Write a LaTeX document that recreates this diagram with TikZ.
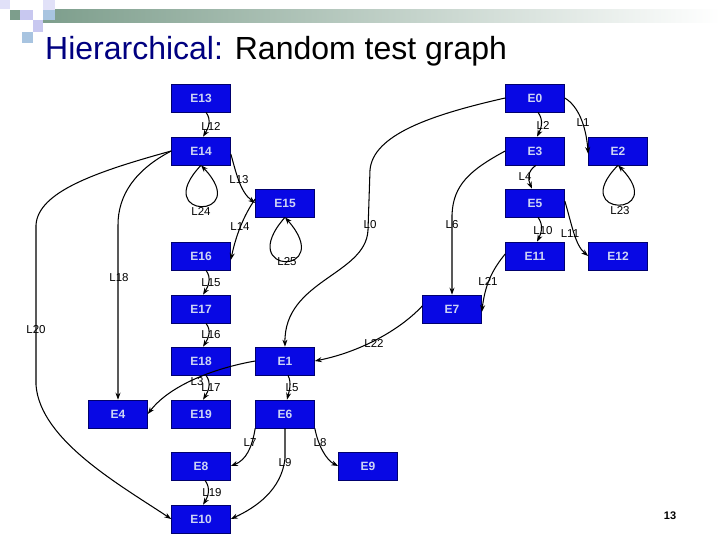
\documentclass[tikz,border=0pt]{standalone}
\usepackage{fontspec}
\setmainfont{Liberation Sans}
\usetikzlibrary{arrows.meta}
\definecolor{boxblue}{RGB}{8,8,228}
\definecolor{boxedge}{RGB}{0,0,110}
\definecolor{boxtext}{RGB}{205,212,245}
\definecolor{navy}{RGB}{0,0,128}
\definecolor{barleft}{RGB}{125,158,140}
\definecolor{sqlav}{RGB}{200,200,240}
\definecolor{sqpale}{RGB}{225,225,248}
\definecolor{sqblue}{RGB}{168,196,224}
\begin{document}
\begin{tikzpicture}[x=1pt,y=-1pt,
  ebox/.style={draw=boxedge, fill=boxblue, line width=0.6pt, minimum width=59pt, minimum height=28pt, inner sep=0pt, text=boxtext, font=\bfseries\fontsize{12}{12}\selectfont},
  elab/.style={font=\fontsize{11.5}{11.5}\selectfont, inner sep=0pt},
  edge/.style={line width=1.05pt, -{Stealth[length=7pt,width=5pt]}},
]
\useasboundingbox (0,0) rectangle (720,540);
\fill[white] (0,0) rectangle (720,540);
% header decoration
\shade[left color=barleft, right color=white] (43,10) rectangle (720,23);
\fill[sqpale] (0,0) rectangle (10,9);
\fill[barleft] (10,10) rectangle (20,20);
\fill[sqlav] (20,10) rectangle (33,20);
\fill[sqpale] (43,0) rectangle (55,10);
\fill[sqblue] (43,10) rectangle (55,20);
\fill[sqlav] (33,20) rectangle (43,32);
\fill[sqblue] (22,32) rectangle (33,43);
\node[anchor=base west, inner sep=0pt, font=\fontsize{32}{32}\selectfont] (title) at (45,60) {\textcolor{navy}{Hierarchical:} Random test graph};
\node[anchor=center, inner sep=0pt, font=\bfseries\fontsize{11}{11}\selectfont] (page) at (670,516) {13};

% boxes
\node[ebox] (e13) at (201,98) {E13};
\node[ebox] (e14) at (201,151) {E14};
\node[ebox] (e15) at (285,203) {E15};
\node[ebox] (e16) at (201,256) {E16};
\node[ebox] (e17) at (201,309) {E17};
\node[ebox] (e18) at (201,361) {E18};
\node[ebox] (e19) at (201,414) {E19};
\node[ebox] (e4) at (118,414) {E4};
\node[ebox] (e1) at (285,361) {E1};
\node[ebox] (e6) at (285,414) {E6};
\node[ebox] (e8) at (201,466) {E8};
\node[ebox] (e9) at (368,466) {E9};
\node[ebox] (e10) at (201,519) {E10};
\node[ebox] (e0) at (535,98) {E0};
\node[ebox] (e3) at (535,151) {E3};
\node[ebox] (e2) at (618,151) {E2};
\node[ebox] (e5) at (535,203) {E5};
\node[ebox] (e11) at (535,256) {E11};
\node[ebox] (e12) at (618,256) {E12};
\node[ebox] (e7) at (452,309) {E7};

% short vertical links
\draw[edge] ([xshift=5pt]e13.south) .. controls +(6,8) and +(5,-8) .. ([xshift=2pt]e14.north);
\draw[edge] ([xshift=5pt]e16.south) .. controls +(6,8) and +(5,-8) .. ([xshift=2pt]e17.north);
\draw[edge] ([xshift=5pt]e17.south) .. controls +(6,8) and +(5,-8) .. ([xshift=2pt]e18.north);
\draw[edge] ([xshift=5pt]e18.south) .. controls +(6,8) and +(5,-8) .. ([xshift=2pt]e19.north);
\draw[edge] ([xshift=4pt]e8.south) .. controls +(6,8) and +(5,-8) .. ([xshift=2pt]e10.north);
\draw[edge] ([xshift=3pt]e0.south) .. controls +(6,8) and +(4,-8) .. ([xshift=2pt]e3.north);
\draw[edge] ([xshift=3pt]e5.south) .. controls +(6,8) and +(4,-8) .. ([xshift=2pt]e11.north);
\draw[edge] ([xshift=1pt]e3.south) .. controls +(-9,6) and +(-4,-9) .. ([xshift=-3pt]e5.north);
\draw[edge] ([xshift=3pt]e1.south) .. controls +(4,8) and +(2,-8) .. ([xshift=2pt]e6.north);

% self loops
\draw[edge] (e14.south) .. controls (149,220) and (253,220) .. (e14.south);
\draw[edge] (e15.south) .. controls (233,276) and (337,276) .. (e15.south);
\draw[edge] (e2.south) .. controls (566,218) and (670,218) .. (e2.south);

% other links
\draw[edge] ([yshift=-3pt]e14.east) .. controls (236,172) and (240,192) .. (e15.west);
\draw[edge] ([yshift=4pt]e15.west) .. controls (244,215) and (236,235) .. ([yshift=-4pt]e16.east);
\draw[edge] (e14.west) .. controls (135,170) and (118,195) .. (118,225) -- (e4.north);
\draw[edge] (e14.west) .. controls (95,172) and (38,192) .. (36,225) -- (36,385) .. controls (40,440) and (120,485) .. (e10.west);
\draw[edge] (e0.west) .. controls (430,115) and (373,135) .. (370,170) -- (368,230) .. controls (366,275) and (284,280) .. (e1.north);
\draw[edge] (e3.west) .. controls (470,170) and (453,185) .. (452,215) -- (e7.north);
\draw[edge] (e0.east) .. controls (578,106) and (586,125) .. ([yshift=-3pt]e2.west);
\draw[edge] ([yshift=2pt]e5.east) .. controls (572,225) and (575,245) .. (e12.west);
\draw[edge] ([yshift=2pt]e11.west) .. controls (492,270) and (485,285) .. ([yshift=-3pt]e7.east);
\draw[edge] ([yshift=3pt]e7.west) .. controls (400,330) and (360,352) .. (e1.east);
\draw[edge] (e1.west) .. controls (215,368) and (170,385) .. (e4.east);
\draw[edge] (e6.south west) .. controls (252,448) and (246,460) .. (e8.east);
\draw[edge] (e6.south) -- (285,458) .. controls (282,490) and (255,508) .. (e10.east);
\draw[edge] (e6.south east) .. controls (318,445) and (326,460) .. (e9.west);

% edge labels
\node[elab] (l12) at (211,126) {L12};
\node[elab] (l24) at (201,211) {L24};
\node[elab] (l13) at (239,180) {L13};
\node[elab] (l14) at (240,227) {L14};
\node[elab] (l25) at (287,262) {L25};
\node[elab] (l15) at (211,283) {L15};
\node[elab] (l16) at (211,335) {L16};
\node[elab] (l17) at (211,388) {L17};
\node[elab] (l19) at (212,493) {L19};
\node[elab] (l18) at (119,278) {L18};
\node[elab] (l20) at (36,330) {L20};
\node[elab] (l0) at (370,225) {L0};
\node[elab] (l6) at (452,225) {L6};
\node[elab] (l2) at (543,125) {L2};
\node[elab] (l1) at (583,123) {L1};
\node[elab] (l23) at (620,211) {L23};
\node[elab] (l4) at (525,177) {L4};
\node[elab] (l10) at (543,231) {L10};
\node[elab] (l11) at (570,234) {L11};
\node[elab] (l21) at (488,281) {L21};
\node[elab] (l22) at (374,343) {L22};
\node[elab] (l3) at (197,382) {L3};
\node[elab] (l5) at (292,388) {L5};
\node[elab] (l7) at (250,443) {L7};
\node[elab] (l9) at (285,463) {L9};
\node[elab] (l8) at (320,443) {L8};
\end{tikzpicture}
\end{document}
